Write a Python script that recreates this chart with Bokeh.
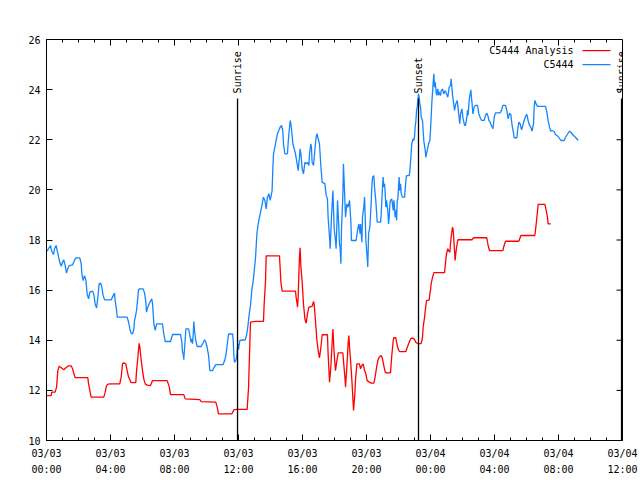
import math
from bokeh.plotting import figure
from bokeh.models import FixedTicker, LinearAxis, Range1d, Label
from bokeh.embed import file_html
from bokeh.resources import INLINE

# ---- data (hours since 2025-03-03 00:00 UTC, dew point in F) ----
obs_hours = [
    0.04, 0.12, 0.25, 0.33, 0.44, 0.50, 0.60, 0.67, 0.75, 0.83, 0.92, 1.00, 1.08, 1.17, 1.25, 1.33, 1.42,
    1.63, 1.75, 1.83, 2.08, 2.17, 2.21, 2.29, 2.38, 2.46, 2.54, 2.63, 2.71, 2.88, 2.96, 3.04, 3.13, 3.21,
    3.29, 3.38, 3.46, 3.54, 3.63, 4.04, 4.17, 4.25, 4.29, 4.38, 4.42, 5.04, 5.13, 5.21, 5.29, 5.38, 5.46,
    5.50, 5.54, 5.63, 5.75, 5.83, 6.04, 6.13, 6.21, 6.25, 6.33, 6.46,
    6.50, 6.58, 6.63, 6.71, 6.79, 6.88, 7.25, 7.33, 7.42, 7.75, 7.88, 8.38, 8.46, 8.50, 8.54, 8.58, 8.67,
    8.71, 8.88, 8.96, 9.04, 9.08, 9.13, 9.17, 9.21, 9.25, 9.33, 9.42, 9.67, 9.79, 9.88, 9.96, 10.04, 10.13,
    10.21, 10.38, 10.46, 10.58, 11.04, 11.13, 11.21, 11.29, 11.38, 11.63, 11.67, 11.71, 11.75, 11.83, 11.88,
    11.96, 12.00, 12.08, 12.42, 12.50, 12.58, 12.67, 12.75, 12.83, 12.92,
    13.06, 13.15, 13.23, 13.31, 13.40, 13.48, 13.56, 13.65, 13.73, 13.81, 13.90, 13.98, 14.06, 14.10, 14.15,
    14.19, 14.27, 14.35, 14.44, 14.52, 14.60, 14.69, 14.77, 14.81, 14.90, 15.06, 15.10, 15.15, 15.23, 15.27,
    15.31, 15.40, 15.48, 15.56, 15.65, 15.73, 15.81, 15.85, 15.90, 15.98, 16.06, 16.15, 16.23, 16.31, 16.40,
    16.44, 16.52, 16.56, 16.60, 16.69, 16.77, 16.85, 16.90, 16.98, 17.06, 17.15, 17.23, 17.40, 17.48, 17.56,
    17.60, 17.69, 17.73, 17.81, 17.90, 17.98, 18.06, 18.10, 18.15, 18.19, 18.27, 18.31, 18.35, 18.40, 18.44,
    18.52, 18.56, 18.60, 18.69, 18.77, 18.85, 18.94, 19.02, 19.06, 19.35, 19.44, 19.52, 19.60,
    19.63, 19.71, 19.75, 19.83, 19.88, 19.92, 19.96, 20.04, 20.08, 20.13, 20.21, 20.29, 20.33, 20.38, 20.46,
    20.50, 20.58, 20.67, 20.88, 20.92, 20.96, 21.00, 21.04, 21.08, 21.13, 21.17, 21.21, 21.25, 21.33, 21.38,
    21.42, 21.46, 21.50, 21.58, 21.67, 21.71, 21.75, 21.79, 21.83, 21.88, 21.92, 21.96, 22.00, 22.04, 22.08,
    22.13, 22.17, 22.25, 22.38, 22.42, 22.46, 22.50, 22.67, 22.71, 22.79, 22.83, 22.88, 22.92, 22.96, 23.00,
    23.04, 23.08, 23.13, 23.17, 23.21, 23.25, 23.29, 23.33, 23.38, 23.42, 23.50, 23.58, 23.67, 23.71, 23.79,
    23.88, 23.96, 24.00, 24.04, 24.08, 24.17, 24.21, 24.25, 24.29, 24.38, 24.46, 24.50, 24.54, 24.63, 24.67,
    24.75, 24.83, 24.92, 25.00, 25.08, 25.17, 25.25, 25.29, 25.38, 25.42, 25.50, 25.58, 25.67, 25.75, 25.83,
    25.88, 25.96, 26.00, 26.04, 26.13,
    26.19, 26.27, 26.31, 26.35, 26.40, 26.44, 26.48, 26.52, 26.56, 26.60, 26.65, 26.69, 26.73, 26.81, 26.94,
    27.02, 27.10, 27.19, 27.35, 27.44, 27.52, 27.60, 27.65, 27.73, 27.81, 27.90, 27.94, 27.98, 28.06, 28.35,
    28.44, 28.52, 28.69, 28.77, 28.85, 28.94, 29.02, 29.10, 29.19, 29.23, 29.40, 29.44, 29.52, 29.60, 29.69,
    29.77, 29.85, 29.94, 30.02, 30.10, 30.19, 30.27, 30.35, 30.44, 30.48, 30.52, 30.60, 30.69, 31.19, 31.27,
    31.35, 31.44, 31.52, 31.60, 31.73, 31.81, 31.98, 32.15, 32.35, 32.44, 32.60, 32.69, 32.77, 32.94, 33.06,
    33.23,
]
obs_dewpoint = [
    17.55, 17.65, 17.78, 17.55, 17.42, 17.65, 17.78, 17.58, 17.34, 17.11, 16.95, 17.11, 17.21, 16.98, 16.68, 16.85, 16.98,
    17.01, 17.18, 17.29, 17.29, 17.05, 16.65, 16.38, 16.58, 16.41, 15.85, 15.65, 15.92, 15.96, 15.82, 15.45, 15.29, 15.72,
    16.25, 16.28, 16.12, 15.78, 15.61, 15.61, 15.78, 15.88, 15.59, 15.19, 14.92, 14.92, 14.72, 14.45, 14.28, 14.25, 14.45,
    14.79, 14.89, 15.19, 16.01, 16.05, 16.05, 15.88, 15.52, 15.12, 15.32, 15.52,
    15.56, 15.65, 15.45, 14.65, 14.39, 14.65, 14.65, 14.25, 13.95, 13.95, 14.23, 14.23, 13.92, 13.52, 13.46, 13.22, 14.05,
    14.45, 14.45, 14.19, 13.92, 14.05, 13.86, 14.25, 14.75, 14.39, 13.99, 13.75, 13.75, 13.90, 14.02, 13.92, 13.72, 13.39,
    12.79, 12.79, 12.90, 13.03, 13.03, 13.19, 13.39, 13.79, 14.25, 14.25, 13.99, 13.39, 13.12, 13.19, 13.32,
    13.86, 13.62, 13.99, 14.02, 14.19, 14.52, 15.05, 15.39, 15.98, 16.38,
    17.25, 18.25, 18.64, 18.91, 19.18, 19.44, 19.71, 19.58, 19.24, 19.71, 19.84, 19.58, 19.84, 19.97, 20.91,
    21.44, 21.70, 21.97, 22.24, 22.37, 22.50, 22.57, 22.37, 21.84, 21.44, 21.44, 21.84, 22.24, 22.77, 22.64,
    22.44, 21.84, 21.64, 21.44, 21.10, 20.77, 21.30, 21.64, 21.44, 20.84, 20.64, 21.10, 21.04, 21.10, 20.97,
    21.44, 21.84, 21.70, 21.10, 20.97, 21.57, 22.10, 22.24, 22.04, 21.84, 20.91, 20.31, 20.24, 19.78, 19.64,
    18.91, 18.11, 17.65, 18.91, 19.97, 18.45, 17.98, 17.65, 18.64, 19.58, 18.51, 17.85, 17.71, 17.05, 18.51,
    19.71, 21.04, 20.37, 18.91, 19.44, 19.31, 19.58, 18.78, 17.98, 17.98, 18.38, 18.64, 18.25,
    18.64, 17.91, 18.91, 19.31, 19.71, 18.91, 17.98, 17.31, 16.92, 18.25, 18.51, 19.44, 20.11, 20.51, 20.57,
    20.11, 19.58, 18.71, 18.71, 19.04, 19.58, 20.11, 20.51, 20.11, 20.24, 19.84, 19.31, 19.58, 19.18, 18.64,
    18.91, 19.44, 19.58, 19.64, 19.18, 19.58, 19.31, 18.91, 19.18, 18.78, 19.58, 19.64, 20.11, 20.51, 19.97,
    20.24, 19.84, 19.71, 19.71, 20.04, 20.37, 20.57, 20.57, 20.77, 21.44, 21.84, 21.97, 22.04, 21.97, 22.10,
    22.50, 22.70, 23.17, 23.30, 23.57, 23.83, 23.70, 23.43, 23.30, 22.90, 22.77, 21.97, 21.57, 21.30, 21.57,
    21.84, 21.97, 22.37, 22.90, 23.43, 24.30, 24.63, 24.10, 24.30, 23.77, 24.03, 23.77, 23.90, 23.77, 23.96,
    24.03, 23.83, 23.96, 23.83, 23.70, 24.10, 24.16, 24.43, 23.77, 23.57, 23.17, 23.43, 23.57, 23.10, 22.64,
    23.03, 23.23, 23.03, 22.83, 22.57,
    22.57, 22.90, 23.17, 22.97, 23.43, 23.70, 23.83, 23.99, 23.70, 23.43, 23.03, 23.17, 23.30, 23.37, 23.37,
    23.03, 22.90, 22.77, 22.77, 22.97, 23.06, 22.93, 22.77, 22.70, 22.57, 22.44, 22.64, 22.90, 23.07, 23.07,
    23.17, 23.37, 23.37, 23.17, 22.83, 23.06, 23.01, 22.57, 22.26, 22.08, 22.08, 22.37, 22.70, 22.64, 22.40,
    22.57, 22.77, 22.93, 23.01, 22.77, 22.57, 22.50, 22.34, 22.64, 23.30, 23.57, 23.43, 23.33, 23.33, 23.10,
    22.77, 22.50, 22.34, 22.37, 22.33, 22.21, 22.13, 21.97, 21.97, 22.10, 22.26, 22.34, 22.30, 22.17, 22.10,
    21.97,
]

ana_hours = [
    0.00, 0.29, 0.33, 0.54, 0.63, 0.67, 0.71, 0.79, 0.88, 1.08, 1.25, 1.38, 1.54, 1.63, 1.71, 1.79, 2.58,
    2.63, 2.71, 2.79, 3.58, 3.67, 3.75, 3.83, 4.04, 4.58, 4.67, 4.75, 4.83, 4.96, 5.04, 5.13, 5.21, 5.29,
    5.58, 5.63, 5.71, 5.79, 5.83, 5.92, 6.00, 6.08, 6.17, 6.29, 6.50, 6.63, 7.54, 7.67, 7.75, 8.58, 8.67,
    9.58, 9.67, 10.58, 10.67, 10.75, 11.58, 11.71, 11.88, 12.54, 12.63, 12.67, 12.75,
    13.06, 13.56, 13.60, 13.69, 13.73, 14.56, 14.65, 14.73, 15.56, 15.60, 15.65, 15.69, 15.73, 15.77, 15.81,
    15.85, 15.90, 15.98, 16.06, 16.15, 16.23, 16.31, 16.40, 16.60, 16.69, 16.73, 16.81, 16.90, 16.98, 17.06,
    17.15, 17.23, 17.56, 17.60, 17.69, 17.77, 17.85, 17.90, 17.98, 18.06, 18.15, 18.23, 18.52, 18.56, 18.65,
    18.69, 18.77, 18.85, 18.90, 18.94, 19.02, 19.10, 19.19, 19.27, 19.31, 19.40, 19.56,
    19.63, 19.71, 19.79, 19.88, 19.96, 20.04, 20.17, 20.29, 20.46, 20.54, 20.63, 20.71, 20.79, 20.92, 21.00,
    21.08, 21.17, 21.25, 21.50, 21.58, 21.63, 21.67, 21.71, 21.83, 21.92, 22.00, 22.08, 22.46, 22.54, 22.63,
    22.71, 22.79, 22.92, 23.00, 23.08, 23.17, 23.29, 23.42, 23.50, 23.54, 23.63, 23.71, 23.75, 23.92, 23.96,
    24.00, 24.04, 24.13, 24.21, 24.88, 24.92, 25.00, 25.08, 25.13, 25.21, 25.25, 25.29, 25.33, 25.38, 25.42,
    25.46, 25.50, 25.54, 25.58, 25.63, 25.71,
    26.19, 26.60, 26.69, 27.52, 27.60, 27.69, 28.52, 28.60, 28.69, 29.52, 29.65, 30.52, 30.56, 30.65, 30.73,
    31.15, 31.23, 31.31, 31.35, 31.52,
]
ana_dewpoint = [
    11.79, 11.79, 11.93, 11.93, 12.13, 12.46, 12.79, 12.96, 12.92, 12.82, 12.92, 12.98, 12.98, 12.86, 12.66, 12.51, 12.51,
    12.26, 11.99, 11.73, 11.73, 11.93, 12.19, 12.25, 12.26, 12.26, 12.53, 13.06, 13.10, 13.06, 12.79, 12.53, 12.42, 12.31,
    12.31, 12.79, 13.32, 13.88, 13.75, 13.19, 12.79, 12.46, 12.26, 12.21, 12.19, 12.39, 12.39, 12.15, 11.83, 11.83, 11.66,
    11.63, 11.55, 11.53, 11.33, 11.06, 11.06, 11.22, 11.24, 11.24, 12.13, 13.06, 14.72,
    14.75, 14.75, 15.39, 16.38, 17.37, 17.37, 16.32, 15.96, 15.96, 15.72, 15.52, 15.32, 15.72, 16.58, 17.31,
    17.69, 16.92, 16.32, 15.45, 14.85, 14.68, 15.05, 15.32, 15.35, 15.55, 15.43, 14.79, 13.99, 13.59, 13.30,
    13.72, 14.22, 14.22, 13.46, 12.33, 12.92, 13.86, 14.45, 13.46, 12.79, 13.19, 13.50, 13.50, 13.19, 12.53,
    12.13, 12.92, 13.86, 14.19, 13.72, 13.06, 12.26, 11.20, 11.86, 12.39, 13.06, 13.06,
    12.86, 12.99, 13.06, 12.79, 12.66, 12.39, 12.33, 12.29, 12.29, 12.53, 12.92, 13.19, 13.32, 13.39, 13.26,
    12.99, 12.73, 12.70, 12.70, 13.39, 13.72, 13.99, 14.10, 14.10, 13.79, 13.62, 13.55, 13.55, 13.70, 13.86,
    13.99, 14.08, 14.08, 14.03, 13.92, 13.88, 13.86, 13.88, 14.12, 14.52, 14.92, 15.39, 15.58, 15.61, 15.85,
    16.01, 16.25, 16.52, 16.70, 16.70, 16.98, 17.45, 17.65, 17.58, 17.51, 17.85, 18.11, 18.31, 18.51, 18.38,
    17.98, 17.58, 17.18, 17.45, 17.71, 18.01,
    18.01, 18.01, 18.09, 18.09, 17.78, 17.58, 17.58, 17.78, 17.95, 17.95, 18.18, 18.18, 18.38, 18.91, 19.42,
    19.42, 19.18, 18.91, 18.64, 18.64,
]

event_hours = [11.94, 23.25, 35.94]
event_names = ["Sunrise", "Sunset", "Sunrise"]
event_top = 23.65

x_tick_hours = [0, 4, 8, 12, 16, 20, 24, 28, 32, 36]
x_tick_labels = ["03/03\n00:00", "03/03\n04:00", "03/03\n08:00", "03/03\n12:00", "03/03\n16:00",
                 "03/03\n20:00", "03/04\n00:00", "03/04\n04:00", "03/04\n08:00", "03/04\n12:00"]
x_minor_hours = list(range(0, 37))
y_ticks = [10, 12, 14, 16, 18, 20, 22, 24, 26]

series_names = ["C5444 Analysis", "C5444"]
series_colors = ["#ff0000", "#1585ff"]

FONT = "DejaVu Sans Mono"
X0, X1, Y0, Y1 = 0, 36, 10, 26
FW, FH = 576, 401
px_x = (X1 - X0) / FW   # data units per pixel (x)
px_y = (Y1 - Y0) / FH   # data units per pixel (y)

p = figure(frame_width=FW, frame_height=FH, output_backend="svg", toolbar_location=None,
           x_range=Range1d(X0, X1), y_range=Range1d(Y0, Y1),
           min_border_left=46, min_border_right=18, min_border_top=39, min_border_bottom=40,
           background_fill_color="white", border_fill_color="white")
p.xaxis.visible = False
p.yaxis.visible = False
p.grid.visible = False
p.outline_line_color = "black"
p.outline_line_width = 1


def style_axis(ax, ticker):
    ax.ticker = ticker
    ax.major_tick_in = 6
    ax.major_tick_out = 0
    ax.minor_tick_in = 3
    ax.minor_tick_out = 0
    ax.axis_line_color = "black"
    ax.major_tick_line_color = "black"
    ax.minor_tick_line_color = "black"
    ax.major_label_text_font = FONT
    ax.major_label_text_font_size = "10px"
    ax.major_label_text_color = "black"


xb = LinearAxis()
style_axis(xb, FixedTicker(ticks=x_tick_hours, minor_ticks=x_minor_hours))
xb.major_label_overrides = {h: lab for h, lab in zip(x_tick_hours, x_tick_labels)}
xb.major_label_standoff = 7
xb.major_label_text_line_height = 1.5
p.add_layout(xb, "below")

yl = LinearAxis()
style_axis(yl, FixedTicker(ticks=y_ticks, minor_ticks=[]))
yl.major_label_standoff = 6
p.add_layout(yl, "left")

# mirrored ticks on top and right edges (gnuplot style)
top_major = 6 * px_y
top_minor = 3 * px_y
p.segment(x0=x_minor_hours, y0=[Y1] * len(x_minor_hours), x1=x_minor_hours,
          y1=[Y1 - (top_major if h in x_tick_hours else top_minor) for h in x_minor_hours],
          line_color="black", line_width=1)
p.segment(x0=[X1] * len(y_ticks), y0=y_ticks, x1=[X1 - 6 * px_x] * len(y_ticks), y1=y_ticks,
          line_color="black", line_width=1)

# series
p.line(ana_hours, ana_dewpoint, line_color=series_colors[0], line_width=1.3)
p.line(obs_hours, obs_dewpoint, line_color=series_colors[1], line_width=1.3)

# sunrise / sunset markers
p.segment(x0=event_hours, y0=[Y0] * len(event_hours), x1=event_hours, y1=[event_top] * len(event_hours),
          line_color="black", line_width=1.3)
for h, name in zip(event_hours, event_names):
    p.add_layout(Label(x=h, y=event_top + 0.2, text=name, angle=math.pi / 2,
                       text_align="left", text_baseline="middle",
                       text_font=FONT, text_font_size="10px", text_color="black"))

# legend (gnuplot style: text then sample)
leg_y = [25.56, 25.0]
for name, col, yy in zip(series_names, series_colors, leg_y):
    p.add_layout(Label(x=32.94, y=yy, text=name, text_align="right", text_baseline="middle",
                       text_font=FONT, text_font_size="10px", text_color="black"))
    p.line([33.5, 35.25], [yy, yy], line_color=col, line_width=1.3)

# title
p.add_layout(Label(x=17.94, y=26.8, text="Dew Point for C5444 on 2025-Mar-03 (time in UTC)",
                   text_align="center", text_baseline="middle",
                   text_font=FONT, text_font_size="10px", text_color="black"))
# y axis label
p.add_layout(Label(x=-2.25, y=18, text="degrees F", angle=math.pi / 2,
                   text_align="center", text_baseline="middle",
                   text_font=FONT, text_font_size="10px", text_color="black"))

open("out.html", "w").write(file_html(p, INLINE))
